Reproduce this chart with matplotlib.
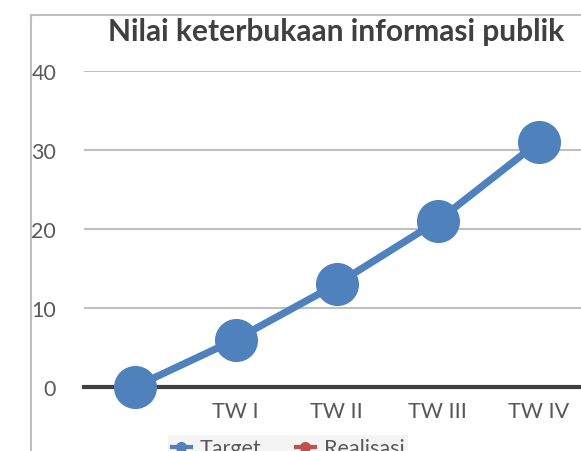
import numpy as np
import matplotlib
matplotlib.use("Agg")
import matplotlib.pyplot as plt
from matplotlib.lines import Line2D

# data
categories = ["", "TW I", "TW II", "TW III", "TW IV"]
target = [0, 6, 13, 21, 31]
realisasi = [np.nan, np.nan, np.nan, np.nan, np.nan]
y_ticks = [0, 10, 20, 30, 40]

plt.rcParams['font.family'] = ['Lato', 'DejaVu Sans']

W, H = 581, 452
fig = plt.figure(figsize=(W / 100, H / 100), dpi=100)
fig.patch.set_facecolor("white")

ax = fig.add_axes([84 / W, 1 - 388 / H, 505 / W, 316 / H])
x = np.arange(len(categories))

ax.plot(x, target, color="#4F81BD", lw=5.2, marker="o", markersize=30,
        solid_capstyle="round", clip_on=False, zorder=4, label="Target")
ax.plot(x, realisasi, color="#C0504D", lw=5.2, marker="o", markersize=30,
        clip_on=False, zorder=4, label="Realisasi")

ax.set_xlim(-0.5, len(categories) - 0.5)
ax.set_ylim(0, 40)
ax.set_yticks(y_ticks)
ax.set_xticks(x)
ax.set_xticklabels(categories)

for s in ax.spines.values():
    s.set_visible(False)
ax.axhline(0, color="#404040", lw=3, zorder=3, clip_on=False)
ax.grid(axis="y", color="#BFBFBF", lw=1.5)
ax.set_axisbelow(True)
ax.tick_params(axis="both", length=0, labelsize=15.5, labelcolor="#595959")
ax.tick_params(axis="x", pad=10)
ax.tick_params(axis="y", pad=20)

fig.text(336 / W, 1 - 32 / H, "Nilai keterbukaan informasi publik",
         ha="center", va="center", fontsize=21.5, fontweight="bold", color="#404040")

# chart border (cropped on the right and bottom)
fig.add_artist(Line2D([31 / W, 31 / W], [1 - 16 / H, 0], color="#BFBFBF", lw=1.5))
fig.add_artist(Line2D([31 / W, 1], [1 - 16 / H, 1 - 16 / H], color="#BFBFBF", lw=1.5))

handles = [Line2D([], [], color="#4F81BD", lw=3, marker="o", markersize=7),
           Line2D([], [], color="#C0504D", lw=3, marker="o", markersize=7)]
leg = fig.legend(handles, ["Target", "Realisasi"], loc="upper center",
                 bbox_to_anchor=(288 / W, 1 - 436 / H), ncol=2, fontsize=15.5,
                 frameon=True, fancybox=False, facecolor="#F2F2F2", edgecolor="none",
                 handlelength=0.9, handletextpad=0.4, columnspacing=1.6,
                 borderpad=0.15, borderaxespad=0.0)
for t in leg.get_texts():
    t.set_color("#595959")

fig.savefig("out.png", dpi=100)
